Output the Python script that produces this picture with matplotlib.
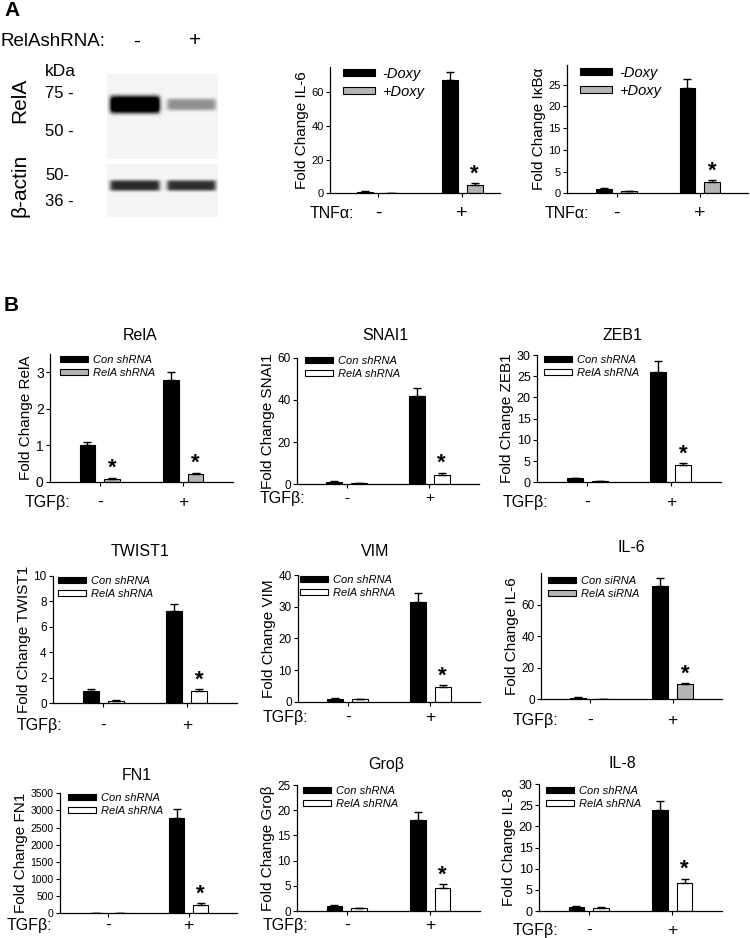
import numpy as np
import matplotlib
matplotlib.use("Agg")
import matplotlib.pyplot as plt
import matplotlib.transforms as mtransforms

plt.rcParams['font.family'] = ['Liberation Sans', 'DejaVu Sans']

W, H = 750, 938

# ---------------- data ----------------
groups = [0, 1]
group_marks = ['-', '+']

# panel A
il6a_neg = [1.0, 67.5]
il6a_neg_err = [0.3, 4.5]
il6a_dox = [0.3, 5.0]
il6a_dox_err = [0.1, 0.9]
ikba_neg = [1.0, 24.2]
ikba_neg_err = [0.2, 2.1]
ikba_dox = [0.5, 2.5]
ikba_dox_err = [0.1, 0.5]

# panel B
rela_con = [1.0, 2.8]
rela_con_err = [0.1, 0.2]
rela_sh = [0.08, 0.2]
rela_sh_err = [0.03, 0.05]
snai1_con = [1.0, 42.0]
snai1_con_err = [0.2, 3.5]
snai1_sh = [0.5, 4.5]
snai1_sh_err = [0.1, 0.9]
zeb1_con = [1.0, 26.0]
zeb1_con_err = [0.1, 2.5]
zeb1_sh = [0.3, 4.1]
zeb1_sh_err = [0.05, 0.4]
twist1_con = [1.0, 7.2]
twist1_con_err = [0.1, 0.6]
twist1_sh = [0.2, 1.0]
twist1_sh_err = [0.03, 0.1]
vim_con = [1.0, 31.5]
vim_con_err = [0.2, 2.7]
vim_sh = [0.7, 4.5]
vim_sh_err = [0.1, 0.7]
il6b_con = [1.0, 72.0]
il6b_con_err = [0.3, 5.0]
il6b_sh = [0.3, 9.5]
il6b_sh_err = [0.1, 0.8]
fn1_con = [1.0, 2770.0]
fn1_con_err = [0.1, 280.0]
fn1_sh = [0.5, 250.0]
fn1_sh_err = [0.1, 40.0]
grob_con = [1.0, 18.0]
grob_con_err = [0.1, 1.6]
grob_sh = [0.5, 4.6]
grob_sh_err = [0.1, 0.7]
il8_con = [1.0, 23.8]
il8_con_err = [0.1, 2.1]
il8_sh = [0.8, 6.7]
il8_sh_err = [0.1, 0.9]

# western blot band strength (lane 1 = -, lane 2 = +)
rela_band = [1.25, 0.4]
actin_band = [0.8, 0.78]

GREY = '#b4b4b4'
WHITE = '#ffffff'

fig = plt.figure(figsize=(W / 100, H / 100), dpi=100)


def fx(x):
    return x / W


def fy(y):
    return 1 - y / H


def add_axes_px(x0, x1, y0, y1):
    return fig.add_axes([x0 / W, 1 - y1 / H, (x1 - x0) / W, (y1 - y0) / H])


def ftext(x, y, s, **kw):
    fig.text(fx(x), fy(y), s, **kw)


def bar_panel(box, con, con_err, sh, sh_err, color2, labels, ylim, yticks,
              ylabel, title, title_xy, leg_xy, stars, trt, trt_xy, mark_y,
              tick_fs=8.5, leg_fs=8, leg_style='italic', xlim=(-0.6, 1.6),
              hlen=2.5, mark_fs=12.5):
    ax = add_axes_px(*box)
    x = np.array(groups, dtype=float)
    w = 0.19
    ax.bar(x - 0.15, con, w, color='black', edgecolor='black', lw=0.8,
           label=labels[0], zorder=2)
    ax.bar(x + 0.15, sh, w, color=color2, edgecolor='black', lw=0.8,
           label=labels[1], zorder=2)
    ax.errorbar(x - 0.15, con, yerr=[np.zeros(2), con_err], fmt='none',
                ecolor='black', elinewidth=1, capsize=3, capthick=1, zorder=3)
    ax.errorbar(x + 0.15, sh, yerr=[np.zeros(2), sh_err], fmt='none',
                ecolor='black', elinewidth=1, capsize=3, capthick=1, zorder=3)
    for i in stars:
        ax.annotate('*', (x[i] + 0.15, sh[i] + sh_err[i]), xytext=(0, -1),
                    textcoords='offset points', ha='center', va='bottom',
                    fontsize=16, fontweight='bold')
    ax.set_xlim(*xlim)
    ax.set_ylim(*ylim)
    ax.set_yticks(yticks)
    ax.tick_params(axis='y', labelsize=tick_fs, length=3, width=0.8, pad=1.5)
    ax.set_xticks(groups)
    ax.set_xticklabels([])
    ax.tick_params(axis='x', length=3, width=0.8)
    for s in ['top', 'right']:
        ax.spines[s].set_visible(False)
    for s in ['left', 'bottom']:
        ax.spines[s].set_linewidth(0.9)
    ax.set_ylabel(ylabel, fontsize=11, labelpad=2)
    if title:
        ftext(title_xy[0], title_xy[1], title, ha='center', va='center',
              fontsize=11.5)
    ax.legend(loc='upper left', bbox_to_anchor=(fx(leg_xy[0]), fy(leg_xy[1])),
              bbox_transform=fig.transFigure, frameon=False, borderpad=0,
              borderaxespad=0, handlelength=hlen, handleheight=0.4,
              handletextpad=0.5, labelspacing=0.25,
              prop={'size': leg_fs, 'style': leg_style})
    ftext(trt_xy[0], trt_xy[1], trt, ha='left', va='center', fontsize=11.5)
    tr = mtransforms.blended_transform_factory(ax.transData, fig.transFigure)
    for g, m in zip(groups, group_marks):
        ax.text(g, fy(mark_y), m, transform=tr, ha='center', va='center',
                fontsize=mark_fs)
    return ax


# ---------------- panel A: blot ----------------
ftext(4, 10, 'A', fontsize=15, fontweight='bold', ha='left', va='center')
ftext(0, 41, 'RelAshRNA:', fontsize=13.5, ha='left', va='center')
ftext(137, 41, '-', fontsize=15, ha='center', va='center')
ftext(195, 41, '+', fontsize=15, ha='center', va='center')
ftext(45, 72, 'kDa', fontsize=12.5, ha='left', va='center')
ftext(45, 93, '75 -', fontsize=12, ha='left', va='center')
ftext(45, 132, '50 -', fontsize=12, ha='left', va='center')
ftext(45, 175, '50-', fontsize=12, ha='left', va='center')
ftext(45, 202, '36 -', fontsize=12, ha='left', va='center')
ftext(20, 100, 'RelA', fontsize=15, rotation=90, ha='center', va='center')
ftext(20, 185, 'β-actin', fontsize=15, rotation=90, ha='center', va='center')


def blot_image(w, h, lanes, strengths, yc, thick):
    xx, yy = np.meshgrid(np.arange(w), np.arange(h))
    img = np.full((h, w), 0.96)
    for (xc, hw), s in zip(lanes, strengths):
        mx = 0.5 * (np.tanh((xx - (xc - hw)) / 2.5) - np.tanh((xx - (xc + hw)) / 2.5))
        my = np.exp(-((yy - yc) / (thick * (0.6 + 0.4 * s))) ** 4)
        img = img - s * mx * my
    return np.clip(img, 0, 1)


lanes = [(27.5, 24.5), (84.0, 24.0)]
ax_b1 = add_axes_px(107, 218, 74, 159)
ax_b1.imshow(blot_image(111, 85, lanes, rela_band, 30, 8), cmap='gray',
             vmin=0, vmax=1, aspect='auto', interpolation='bilinear')
ax_b1.axis(False)
ax_b2 = add_axes_px(107, 218, 164, 217)
ax_b2.imshow(blot_image(111, 53, lanes, actin_band, 21, 6), cmap='gray',
             vmin=0, vmax=1, aspect='auto', interpolation='bilinear')
ax_b2.axis(False)

# ---------------- panel A: qPCR ----------------
bar_panel((330, 500, 67, 193.3), il6a_neg, il6a_neg_err, il6a_dox, il6a_dox_err,
          GREY, ['-Doxy', '+Doxy'], (0, 75), [0, 20, 40, 60],
          'Fold Change IL-6', None, None, (343, 67), [1], 'TNFα:', (310, 213),
          213, tick_fs=8, leg_fs=10.5, xlim=(-0.57, 1.45), hlen=2.2,
          mark_fs=14)
bar_panel((567, 748, 65, 193.3), ikba_neg, ikba_neg_err, ikba_dox, ikba_dox_err,
          GREY, ['-Doxy', '+Doxy'], (0, 29.5), [0, 5, 10, 15, 20, 25],
          'Fold Change IκBα', None, None, (580, 66), [1], 'TNFα:', (545, 213),
          213, tick_fs=8, leg_fs=10.5, xlim=(-0.6, 1.58), hlen=2.2,
          mark_fs=14)

# ---------------- panel B ----------------
ftext(4, 305, 'B', fontsize=15, fontweight='bold', ha='left', va='center')

shl = ['Con shRNA', 'RelA shRNA']
bar_panel((50, 233, 354, 481.7), rela_con, rela_con_err, rela_sh, rela_sh_err,
          GREY, shl, (0, 3.5), [0, 1, 2, 3], 'Fold Change RelA', 'RelA',
          (140, 336), (60, 355), [0, 1], 'TGFβ:', (25, 502), 502, tick_fs=10)
bar_panel((297, 479, 358, 484), snai1_con, snai1_con_err, snai1_sh, snai1_sh_err,
          WHITE, shl, (0, 60), [0, 20, 40, 60], 'Fold Change SNAI1', 'SNAI1',
          (385, 336), (305, 356), [1], 'TGFβ:', (260, 498), 498, mark_fs=11)
bar_panel((537, 721, 355, 482.3), zeb1_con, zeb1_con_err, zeb1_sh, zeb1_sh_err,
          WHITE, shl, (0, 30), [0, 5, 10, 15, 20, 25, 30], 'Fold Change ZEB1',
          'ZEB1', (622, 336), (544, 355), [1], 'TGFβ:', (503, 502), 502,
          tick_fs=9)
bar_panel((53, 237, 575.7, 703.3), twist1_con, twist1_con_err, twist1_sh,
          twist1_sh_err, WHITE, shl, (0, 10), [0, 2, 4, 6, 8, 10],
          'Fold Change TWIST1', 'TWIST1', (140, 551), (58, 576), [1], 'TGFβ:',
          (17, 725), 725)
bar_panel((298, 480, 575, 701.7), vim_con, vim_con_err, vim_sh, vim_sh_err,
          WHITE, shl, (0, 40), [0, 10, 20, 30, 40], 'Fold Change VIM', 'VIM',
          (375, 552), (300, 575), [1], 'TGFβ:', (263, 717), 717)
bar_panel((541, 722, 573.3, 699.3), il6b_con, il6b_con_err, il6b_sh, il6b_sh_err,
          GREY, ['Con siRNA', 'RelA siRNA'], (0, 80), [0, 20, 40, 60],
          'Fold Change IL-6', 'IL-6', (631, 547), (548, 576), [1], 'TGFβ:',
          (513, 720), 720)
bar_panel((60, 237, 793.3, 913.3), fn1_con, fn1_con_err, fn1_sh, fn1_sh_err,
          WHITE, shl, (0, 3500), list(range(0, 3501, 500)), 'Fold Change FN1',
          'FN1', (137, 775), (68, 793), [1], 'TGFβ:', (7, 925), 925, tick_fs=7.5)
bar_panel((297, 480, 785, 911), grob_con, grob_con_err, grob_sh, grob_sh_err,
          WHITE, shl, (0, 25), [0, 5, 10, 15, 20, 25], 'Fold Change Groβ',
          'Groβ', (386, 765), (303, 786), [1], 'TGFβ:', (263, 925), 925)
bar_panel((539, 722, 784, 911), il8_con, il8_con_err, il8_sh, il8_sh_err,
          WHITE, shl, (0, 30), [0, 5, 10, 15, 20, 25, 30], 'Fold Change IL-8',
          'IL-8', (622, 763), (546, 786), [1], 'TGFβ:', (513, 930), 930,
          tick_fs=9)

fig.savefig('out.png', dpi=100)
